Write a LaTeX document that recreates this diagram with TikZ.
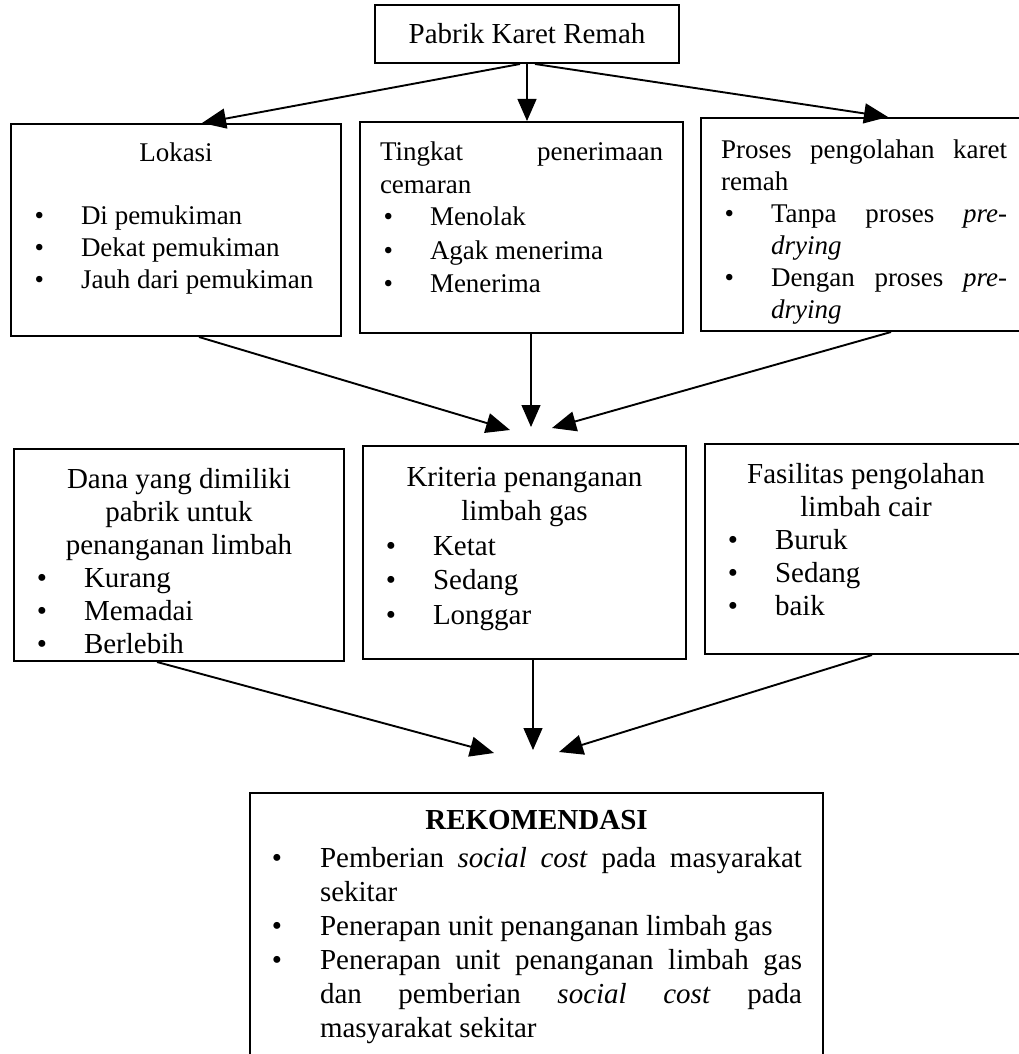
\documentclass[tikz,border=0pt]{standalone}
\usepackage{fontspec}
\setmainfont{Liberation Serif}
\usepackage{enumitem}
\usetikzlibrary{arrows.meta, positioning, calc}
\setlist[itemize]{label=\textbullet, leftmargin=50pt, labelsep=37pt, itemsep=0pt, topsep=0pt, parsep=0pt, partopsep=0pt}
\tolerance=10000
\hyphenpenalty=10000
\hbadness=10000
\newcommand{\isikotak}[4]{\parbox[t][#2][t]{#1}{\rule{0pt}{#3}#4}}

\begin{document}
\begin{tikzpicture}[x=1pt, y=-1pt,
  kotak/.style={draw, line width=2pt, inner xsep=20pt, inner ysep=0pt, anchor=north west},
  panah/.style={-{Triangle[length=24pt, width=20pt]}, line width=1.9pt},
  panahtengah/.style={-{Triangle[length=22pt, width=19pt]}, line width=1.2pt}]
  \useasboundingbox (0,0) rectangle (1019,1054);

  % Pabrik
  \node[draw, line width=2pt, minimum width=304pt, minimum height=58pt,
    font=\fontsize{29}{34}\selectfont] (pabrik) at (527,34) {Pabrik Karet Remah};

  % Row 1
  \node[kotak, font=\fontsize{27}{32}\selectfont] (lokasi) at (10,123) {\isikotak{290pt}{212pt}{37pt}{%
    {\centering Lokasi\par}\vspace{31pt}
    \begin{itemize}
      \item Di pemukiman
      \item Dekat pemukiman
      \item Jauh dari pemukiman
    \end{itemize}}};
  \node[kotak, font=\fontsize{27}{33}\selectfont] (tingkat) at (359,121) {\isikotak{283pt}{211pt}{38pt}{%
    Tingkat penerimaan\linebreak cemaran\par
    \begin{itemize}
      \item Menolak
      \item Agak menerima
      \item Menerima
    \end{itemize}}};
  \node[kotak, font=\fontsize{27}{32}\selectfont] (proses) at (700,117) {\isikotak{286pt}{213pt}{40pt}{%
    Proses pengolahan karet\linebreak remah\par
    \begin{itemize}
      \item Tanpa proses \textit{pre-}\linebreak\textit{drying}
      \item Dengan proses \textit{pre-}\linebreak\textit{drying}
    \end{itemize}}};

  % Row 2
  \node[kotak, font=\fontsize{29}{33}\selectfont] (dana) at (13,448) {\isikotak{290pt}{212pt}{39pt}{%
    {\centering Dana yang dimiliki\\ pabrik untuk\\ penanganan limbah\par}
    \begin{itemize}
      \item Kurang
      \item Memadai
      \item Berlebih
    \end{itemize}}};
  \node[kotak, font=\fontsize{29}{34.5}\selectfont] (kriteria) at (362,445) {\isikotak{283pt}{213pt}{40pt}{%
    {\centering Kriteria penanganan\\ limbah gas\par}
    \begin{itemize}
      \item Ketat
      \item Sedang
      \item Longgar
    \end{itemize}}};
  \node[kotak, font=\fontsize{29}{33}\selectfont] (fasilitas) at (704,443) {\isikotak{282pt}{210pt}{39pt}{%
    {\centering Fasilitas pengolahan\\ limbah cair\par}
    \begin{itemize}
      \item Buruk
      \item Sedang
      \item baik
    \end{itemize}}};

  % Rekomendasi
  \node[kotak, inner xsep=21pt, font=\fontsize{29}{34}\selectfont] (rekomendasi) at (249,792) {\isikotak{531pt}{278pt}{36pt}{%
    {\centering\bfseries REKOMENDASI\par}\vspace{4pt}
    \begin{itemize}[leftmargin=49pt, labelsep=38pt]
      \item Pemberian \textit{social cost} pada masyarakat\linebreak sekitar
      \item Penerapan unit penanganan limbah gas
      \item Penerapan unit penanganan limbah gas\linebreak dan pemberian \textit{social cost} pada\linebreak masyarakat sekitar
    \end{itemize}}};

  % Arrows
  \coordinate (kiri1) at (510,430);
  \coordinate (tengah1) at (531,427);
  \coordinate (kanan1) at (552,428);
  \coordinate (kiri2) at (494,753);
  \coordinate (tengah2) at (533,750);
  \coordinate (kanan2) at (559,752);

  \draw[panah] ([xshift=-7pt]pabrik.south) -- ([xshift=26pt]lokasi.north);
  \draw[panahtengah] (pabrik.south) -- (pabrik.south |- tingkat.north);
  \draw[panah] ([xshift=8pt]pabrik.south) -- ([xshift=24pt]proses.north);

  \draw[panah] ([xshift=23pt]lokasi.south) -- (kiri1);
  \draw[panahtengah] (tingkat.south -| tengah1) -- (tengah1);
  \draw[panah] ([xshift=27pt]proses.south) -- (kanan1);

  \draw[panah] ([xshift=-22pt]dana.south) -- (kiri2);
  \draw[panahtengah] (kriteria.south -| tengah2) -- (tengah2);
  \draw[panah] ([xshift=6pt]fasilitas.south) -- (kanan2);
\end{tikzpicture}
\end{document}
